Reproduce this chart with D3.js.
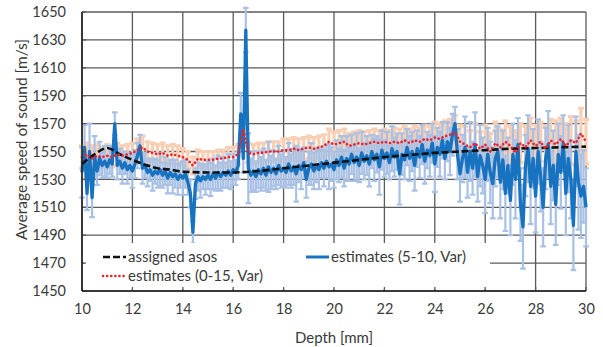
<!DOCTYPE html>
<html><head><meta charset="utf-8">
<script src="https://cdn.jsdelivr.net/npm/d3@7"></script>
<style>
html,body{margin:0;padding:0;background:#fff;}
svg{display:block;font-family:Lato,"Open Sans",sans-serif;}
</style></head>
<body><svg id="c" width="603" height="347"></svg>
<script>
// ---- data ----
const xTicks = [10,12,14,16,18,20,22,24,26,28,30];
const yTicks = [1450,1470,1490,1510,1530,1550,1570,1590,1610,1630,1650];

// assigned asos (black dashed)
const asosDepth = [10,10.5,11,11.5,12,12.5,13,13.5,14,15,16,17,18,19,20,21,22,23,24,25,26,27,28,29,30];
const asosSpeed = [1541,1548,1552.5,1548,1544,1540.5,1538,1537,1535.5,1535,1535,1536,1538,1540,1542,1544,1546,1547.5,1549,1550,1551,1552,1552.5,1553,1553.5];

// estimates (5-10, Var): depth 10.0 .. 30.0 step 0.1
const est510Depth = [10.0,10.1,10.2,10.3,10.4,10.5,10.6,10.7,10.8,10.9,11.0,11.1,11.2,11.3,11.4,11.5,11.6,11.7,11.8,11.9,12.0,12.1,12.2,12.3,12.4,12.5,12.6,12.7,12.8,12.9,13.0,13.1,13.2,13.3,13.4,13.5,13.6,13.7,13.8,13.9,14.0,14.1,14.2,14.3,14.4,14.5,14.6,14.7,14.8,14.9,15.0,15.1,15.2,15.3,15.4,15.5,15.6,15.7,15.8,15.9,16.0,16.1,16.2,16.3,16.4,16.5,16.6,16.7,16.8,16.9,17.0,17.1,17.2,17.3,17.4,17.5,17.6,17.7,17.8,17.9,18.0,18.1,18.2,18.3,18.4,18.5,18.6,18.7,18.8,18.9,19.0,19.1,19.2,19.3,19.4,19.5,19.6,19.7,19.8,19.9,20.0,20.1,20.2,20.3,20.4,20.5,20.6,20.7,20.8,20.9,21.0,21.1,21.2,21.3,21.4,21.5,21.6,21.7,21.8,21.9,22.0,22.1,22.2,22.3,22.4,22.5,22.6,22.7,22.8,22.9,23.0,23.1,23.2,23.3,23.4,23.5,23.6,23.7,23.8,23.9,24.0,24.1,24.2,24.3,24.4,24.5,24.6,24.7,24.8,24.9,25.0,25.1,25.2,25.3,25.4,25.5,25.6,25.7,25.8,25.9,26.0,26.1,26.2,26.3,26.4,26.5,26.6,26.7,26.8,26.9,27.0,27.1,27.2,27.3,27.4,27.5,27.6,27.7,27.8,27.9,28.0,28.1,28.2,28.3,28.4,28.5,28.6,28.7,28.8,28.9,29.0,29.1,29.2,29.3,29.4,29.5,29.6,29.7,29.8,29.9,30.0];
const est510Speed = [1535,1553,1520,1550,1517,1546,1536,1545,1540,1543,1539,1544,1541,1570,1540,1543,1538,1542,1537,1540,
1536,1541,1547,1554,1538,1540,1535,1537,1533,1536,1534,1537,1533,1536,1531,1535,1532,1534,1530,1533,
1531,1534,1528,1520,1492,1527,1532,1529,1532,1530,1533,1530,1534,1531,1535,1532,1535,1533,1536,1533,
1537,1535,1540,1577,1545,1637,1538,1533,1536,1532,1537,1534,1538,1533,1539,1535,1538,1534,1540,1536,
1538,1535,1541,1536,1539,1534,1540,1537,1542,1530,1538,1541,1536,1540,1537,1542,1538,1543,1539,1541,
1537,1544,1540,1546,1538,1545,1541,1548,1542,1546,1540,1549,1543,1547,1541,1550,1544,1548,1539,1551,
1545,1549,1542,1552,1546,1550,1534,1548,1544,1553,1545,1550,1540,1552,1546,1555,1543,1551,1547,1556,
1541,1553,1548,1558,1545,1557,1550,1562,1570,1548,1534,1545,1553,1535,1550,1538,1555,1532,1547,1540,
1530,1548,1535,1527,1545,1550,1528,1544,1520,1540,1515,1548,1530,1555,1512,1496,1540,1552,1525,1545,
1518,1550,1532,1510,1545,1555,1525,1540,1512,1548,1535,1556,1520,1545,1530,1497,1550,1528,1518,1525,1510];
const est510Err = [18,16,12,20,14,15,10,12,9,11,8,10,9,8,10,9,11,8,10,9,
12,10,9,8,11,9,10,8,11,9,10,12,9,10,11,9,12,10,11,9,
12,10,9,10,8,11,10,12,9,11,10,12,11,9,12,10,11,9,12,10,
11,9,10,15,10,16,25,12,14,11,13,12,14,11,18,12,13,11,14,12,
13,11,15,12,13,20,12,14,11,13,12,15,13,12,14,11,13,12,16,12,
13,14,12,15,13,16,12,14,13,17,12,15,13,14,16,12,15,13,20,14,
13,15,12,16,14,13,22,15,14,13,16,14,18,13,15,14,16,13,15,14,
20,14,16,13,15,14,17,15,12,18,20,17,22,18,21,19,23,18,22,20,
24,19,22,25,20,18,26,21,27,20,25,22,28,19,26,30,22,24,27,21,
26,23,25,28,22,24,27,25,29,22,26,20,30,24,28,32,25,34,30,26,28];

// estimates (0-15, Var): depth 10.0 .. 30.0 step 0.2
const est015Depth = [10.0,10.2,10.4,10.6,10.8,11.0,11.2,11.4,11.6,11.8,12.0,12.2,12.4,12.6,12.8,13.0,13.2,13.4,13.6,13.8,14.0,14.2,14.4,14.6,14.8,15.0,15.2,15.4,15.6,15.8,16.0,16.2,16.4,16.6,16.8,17.0,17.2,17.4,17.6,17.8,18.0,18.2,18.4,18.6,18.8,19.0,19.2,19.4,19.6,19.8,20.0,20.2,20.4,20.6,20.8,21.0,21.2,21.4,21.6,21.8,22.0,22.2,22.4,22.6,22.8,23.0,23.2,23.4,23.6,23.8,24.0,24.2,24.4,24.6,24.8,25.0,25.2,25.4,25.6,25.8,26.0,26.2,26.4,26.6,26.8,27.0,27.2,27.4,27.6,27.8,28.0,28.2,28.4,28.6,28.8,29.0,29.2,29.4,29.6,29.8,30.0];
const est015Speed = [1546,1548,1545,1547,1546,1547,1546,1548,1547,1548,1549,1551,1553,1550,1549,1548,1549,1547,1548,1547,
1546,1544,1540,1545,1544,1544,1544,1545,1545,1546,1546,1548,1566,1549,1548,1549,1549,1550,1550,1550,
1551,1551,1552,1551,1552,1553,1552,1553,1554,1557,1555,1556,1557,1554,1555,1556,1555,1556,1557,1556,
1557,1556,1557,1556,1558,1556,1558,1557,1559,1558,1560,1559,1561,1562,1564,1557,1555,1553,1556,1552,
1555,1550,1556,1553,1557,1554,1549,1556,1553,1558,1554,1557,1552,1558,1555,1559,1554,1558,1556,1563,1557];
const est015Err = [8,8,9,8,7,8,7,8,7,7,7,8,8,7,7,7,7,7,7,7,
6,6,6,6,6,6,6,6,6,7,7,7,8,7,7,7,7,7,7,7,
8,8,8,8,8,8,8,8,8,9,9,9,9,9,9,9,9,9,9,9,
9,9,10,10,10,10,10,10,10,10,11,11,11,11,12,12,13,12,14,12,
14,13,15,13,15,14,16,14,15,16,15,14,16,15,17,15,16,17,16,18,16];

const legendNames = ["assigned asos","estimates (5-10, Var)","estimates (0-15, Var)"];

// ---- layout ----
const W=603,H=347, L=82, R=586, T=12, B=291;
const svg=d3.select("#c");
const x=d3.scaleLinear().domain([10,30]).range([L,R]);
const y=d3.scaleLinear().domain([1450,1650]).range([B,T]);
const gridC="#5a5a5a", txtC="#3a3a3a";

// grid
svg.append("g").selectAll("line").data(yTicks).join("line")
  .attr("x1",L).attr("x2",R).attr("y1",d=>y(d)).attr("y2",d=>y(d))
  .attr("stroke",gridC).attr("stroke-width",1.3);
svg.append("g").selectAll("line").data(xTicks).join("line")
  .attr("y1",T).attr("y2",B).attr("x1",d=>x(d)).attr("x2",d=>x(d))
  .attr("stroke",gridC).attr("stroke-width",1.3);

// series
const blue=est510Depth.map((d,i)=>({x:d,y:est510Speed[i],e:est510Err[i]}));
const red=est015Depth.map((d,i)=>({x:d,y:est015Speed[i],e:est015Err[i]}));
const asos=asosDepth.map((d,i)=>({x:d,y:asosSpeed[i]}));

function errBars(data,color,w,cap){
  const g=svg.append("g").attr("stroke",color).attr("stroke-width",w).attr("fill","none");
  g.selectAll("path").data(data).join("path")
    .attr("d",d=>{const xx=x(d.x),y1=y(d.y+d.e),y0=y(d.y-d.e);
      return `M${xx},${y0}V${y1}M${xx-cap},${y1}H${xx+cap}M${xx-cap},${y0}H${xx+cap}`;});
}
errBars(red,"#f8cfb5",3.2,3);
errBars(blue,"#a8c1e5",2.2,2.8);

const line=d3.line().x(d=>x(d.x)).y(d=>y(d.y));
svg.append("path").datum(blue).attr("d",line).attr("fill","none")
  .attr("stroke","#1772c0").attr("stroke-width",3.3).attr("stroke-linejoin","round");
svg.append("path").datum(asos).attr("d",d3.line().x(d=>x(d.x)).y(d=>y(d.y)).curve(d3.curveMonotoneX)).attr("fill","none")
  .attr("stroke","#111").attr("stroke-width",2.6).attr("stroke-dasharray","7,3");
svg.append("path").datum(red).attr("d",line).attr("fill","none")
  .attr("stroke","#f0222a").attr("stroke-width",2.6).attr("stroke-dasharray","0.1,4")
  .attr("stroke-linecap","round");

// legend box
svg.append("rect").attr("x",84).attr("y",243).attr("width",406).attr("height",46).attr("fill","#fff");
// inner tick marks
svg.append("g").selectAll("line").data(xTicks).join("line")
  .attr("x1",d=>x(d)).attr("x2",d=>x(d)).attr("y1",B).attr("y2",B-4).attr("stroke",gridC).attr("stroke-width",1.3);
svg.append("g").selectAll("line").data(yTicks).join("line")
  .attr("x1",L).attr("x2",L+4).attr("y1",d=>y(d)).attr("y2",d=>y(d)).attr("stroke",gridC).attr("stroke-width",1.3);

// axes lines
svg.append("line").attr("x1",L).attr("x2",L).attr("y1",T).attr("y2",B).attr("stroke","#222").attr("stroke-width",1.6);
svg.append("line").attr("x1",L).attr("x2",R).attr("y1",B).attr("y2",B).attr("stroke","#222").attr("stroke-width",1.6);

// tick labels via axes
const ax=svg.append("g").attr("transform",`translate(0,${B})`)
  .call(d3.axisBottom(x).tickValues(xTicks).tickSize(0).tickPadding(13).tickFormat(d3.format("d")));
const ay=svg.append("g").attr("transform",`translate(${L},0)`)
  .call(d3.axisLeft(y).tickValues(yTicks).tickSize(0).tickPadding(16).tickFormat(d3.format("d")));
[ax,ay].forEach(g=>{g.select(".domain").remove();
  g.selectAll("text").attr("font-family","Lato, sans-serif").attr("font-size",14.5).attr("fill",txtC);});

// titles
svg.append("text").attr("x",(L+R)/2).attr("y",343).attr("text-anchor","middle")
  .attr("font-size",15).attr("fill",txtC).text("Depth [mm]");
svg.append("text").attr("transform",`translate(27,${(T+B)/2-12}) rotate(-90)`).attr("text-anchor","middle")
  .attr("font-size",15.5).attr("fill",txtC).text("Average speed of sound [m/s]");

// legend
const leg=[{x:103,y:257,n:0},{x:306,y:257,n:1},{x:103,y:276,n:2}];
leg.forEach(l=>{
  const s=svg.append("line").attr("x1",l.x).attr("x2",l.x+23).attr("y1",l.y).attr("y2",l.y);
  if(l.n===0) s.attr("stroke","#111").attr("stroke-width",2.6).attr("stroke-dasharray","7,3");
  if(l.n===1) s.attr("stroke","#1772c0").attr("stroke-width",3);
  if(l.n===2) s.attr("stroke","#f0222a").attr("stroke-width",2.6).attr("stroke-dasharray","0.1,4").attr("stroke-linecap","round");
  svg.append("text").attr("x",l.x+25).attr("y",l.y+5).attr("font-size",15).attr("fill",txtC).text(legendNames[l.n]);
});
</script></body></html>
